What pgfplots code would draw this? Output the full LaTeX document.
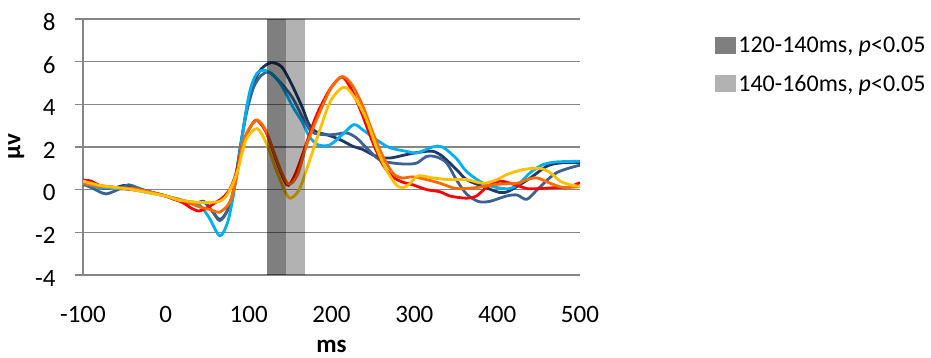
\documentclass[border=0pt]{standalone}
\usepackage{fontspec}
\setmainfont{Carlito}
\usepackage{pgfplots}
\pgfplotsset{compat=1.18}
\definecolor{navyx}{HTML}{1F3864}
\definecolor{steelx}{HTML}{3A6293}
\definecolor{cyanx}{HTML}{00B0F0}
\definecolor{redx}{HTML}{FF0000}
\definecolor{orangex}{HTML}{FF6A00}
\definecolor{yellowx}{HTML}{FFC000}
\definecolor{gridc}{HTML}{868686}
\begin{document}
\begin{tikzpicture}
\path[use as bounding box] (0pt,0pt) rectangle (931pt,358pt);
\begin{axis}[
  at={(83pt,83pt)}, anchor=south west,
  scale only axis, width=497pt, height=256pt,
  xmin=-100, xmax=500, ymin=-4, ymax=8,
  xtick={-100,0,...,500}, ytick={-4,-2,...,8},
  axis x line=bottom, axis y line=left,
  axis line style={gridc, line width=1.3pt, -},
  ymajorgrids, grid style={gridc, line width=1.3pt},
  major tick length=8pt, tick align=outside,
  ytick style={gridc, line width=1.3pt},
  xtick style={draw=none},
  /pgf/number format/assume math mode=true,
  tick label style={font=\fontsize{25}{29}\selectfont},
  yticklabel style={xshift=-16pt, yshift=-3pt},
  xticklabel style={yshift=-20pt},
  xlabel={\bfseries ms}, ylabel={\bfseries µv},
  label style={font=\fontsize{25}{29}\selectfont},
  xlabel style={at={(axis description cs:0.5,-0.28)}, anchor=center, inner sep=0pt},
  ylabel style={at={(axis description cs:-0.134,0.5)}, anchor=center, inner sep=0pt},
  legend style={at={(1.266,0.946)}, anchor=north west, draw=none, fill=none,
    font=\fontsize{24}{28}\selectfont, row sep=17pt, legend cell align=left,
    /tikz/every even column/.append style={column sep=0pt}},
  legend image code/.code={\fill[#1] (0pt,-8pt) rectangle (21pt,9pt);},
  every axis plot/.append style={line width=2.8pt, smooth, tension=0.5},
]
\addplot[navyx, forget plot] coordinates {(-100,0.35) (-90,0.2) (-80,0.1) (-70,0.05) (-60,0.1) (-50,0.2) (-40,0.15) (-30,0.0) (-20,-0.1) (-10,-0.2) (0,-0.3) (10,-0.45) (20,-0.55) (30,-0.6) (40,-0.6) (47,-0.6) (56,-1.0) (65,-1.4) (74,-1.0) (82,0.0) (90,2.0) (98,3.9) (106,5.0) (115,5.65) (127,5.95) (140,5.75) (153,4.85) (165,3.83) (173,3.05) (182,2.7) (194,2.58) (210,2.35) (226,2.03) (238,1.88) (254,1.56) (270,1.48) (290,1.64) (305,1.75) (322,1.8) (334,1.56) (351,0.94) (363,0.47) (383,0.15) (403,-0.13) (415,-0.05) (440,0.55) (460,1.1) (476,1.25) (500,1.28)};
\addplot[steelx, forget plot] coordinates {(-100,0.25) (-90,0.1) (-80,-0.1) (-72,-0.2) (-64,-0.1) (-55,0.05) (-45,0.23) (-35,0.1) (-20,-0.1) (0,-0.3) (15,-0.5) (30,-0.65) (40,-0.6) (46,-0.55) (56,-1.0) (65,-1.45) (74,-1.0) (82,0.0) (90,2.0) (98,3.7) (106,4.8) (115,5.35) (125,5.5) (140,4.95) (153,4.3) (165,3.4) (175,2.75) (185,2.6) (202,2.58) (218,2.66) (230,2.43) (242,1.97) (258,1.4) (274,1.25) (290,1.2) (303,1.25) (315,1.56) (327,1.53) (339,1.25) (351,0.45) (363,-0.2) (377,-0.55) (391,-0.55) (411,-0.3) (424,-0.25) (436,-0.45) (451,0.1) (472,0.8) (500,1.15)};
\addplot[cyanx, forget plot] coordinates {(-100,0.3) (-80,0.1) (-60,0.05) (-40,0.0) (-20,-0.15) (0,-0.3) (20,-0.5) (40,-0.7) (52,-1.3) (65,-2.16) (74,-1.6) (80,-0.6) (85,0.6) (93,2.7) (101,4.55) (109,5.4) (118,5.6) (129,5.4) (141,4.8) (153,3.9) (165,3.15) (173,2.5) (184,2.1) (198,2.1) (213,2.58) (227,3.05) (238,2.8) (254,2.35) (270,1.97) (290,1.8) (303,1.72) (322,2.0) (334,2.0) (351,1.45) (363,0.85) (383,0.3) (400,0.1) (415,0.05) (427,0.3) (440,0.8) (455,1.17) (472,1.3) (500,1.33)};
\addplot[redx, forget plot] coordinates {(-100,0.45) (-90,0.4) (-80,0.2) (-60,0.1) (-40,0.0) (-20,-0.1) (0,-0.3) (20,-0.6) (30,-0.85) (40,-1.0) (52,-0.8) (60,-0.6) (68,-0.4) (77,0.0) (85,0.8) (93,2.2) (103,3.0) (110,3.25) (121,2.7) (133,1.4) (141,0.6) (148,0.2) (157,0.8) (170,2.2) (177,3.0) (185,3.75) (198,4.7) (210,5.25) (216,5.2) (226,4.55) (238,3.43) (250,2.2) (262,1.17) (274,0.6) (286,0.35) (298,0.23) (315,0.0) (331,-0.1) (343,-0.3) (363,-0.4) (375,-0.3) (387,0.1) (403,0.4) (424,0.2) (436,0.05) (451,0.05) (472,0.1) (485,0.1) (500,0.33)};
\addplot[orangex, forget plot] coordinates {(-100,0.3) (-80,0.15) (-60,0.1) (-40,0.05) (-20,-0.1) (0,-0.3) (20,-0.5) (40,-0.8) (55,-0.95) (65,-1.05) (77,-0.6) (85,0.5) (93,2.2) (103,3.0) (111,3.25) (121,2.75) (133,1.5) (141,0.7) (149,0.25) (159,0.7) (170,2.1) (180,3.1) (190,4.0) (200,4.8) (213,5.3) (225,4.9) (238,3.9) (250,2.66) (262,1.56) (274,0.78) (285,0.55) (298,0.6) (315,0.47) (331,0.3) (351,0.05) (375,0.1) (400,0.25) (424,0.3) (436,0.47) (448,0.55) (464,0.3) (480,0.1) (500,0.15)};
\addplot[yellowx, forget plot] coordinates {(-100,0.4) (-80,0.2) (-60,0.1) (-40,0.0) (-20,-0.15) (0,-0.3) (16,-0.5) (30,-0.55) (40,-0.6) (52,-0.6) (65,-0.55) (73,-0.3) (80,0.2) (87,0.94) (97,2.35) (110,2.86) (121,2.2) (133,0.94) (143,0.0) (150,-0.4) (161,0.0) (173,1.3) (185,2.7) (198,4.1) (210,4.7) (218,4.78) (230,4.2) (242,3.3) (254,2.0) (266,0.94) (278,0.23) (287,0.1) (295,0.3) (305,0.65) (322,0.55) (343,0.47) (363,0.47) (383,0.3) (400,0.47) (411,0.7) (431,0.94) (451,1.0) (464,0.8) (476,0.4) (488,0.23) (500,0.15)};
\addplot[fill=black, fill opacity=0.5, draw=none, line width=0pt, sharp plot] coordinates {(122.5,-4) (122.5,8) (145.5,8) (145.5,-4)} -- cycle;
\addplot[fill=black, fill opacity=0.3, draw=none, line width=0pt, sharp plot] coordinates {(145.5,-4) (145.5,8) (168.5,8) (168.5,-4)} -- cycle;
\legend{{120-140ms, \textit{p}<0.05}, {140-160ms, \textit{p}<0.05}}
\end{axis}
\end{tikzpicture}
\end{document}
